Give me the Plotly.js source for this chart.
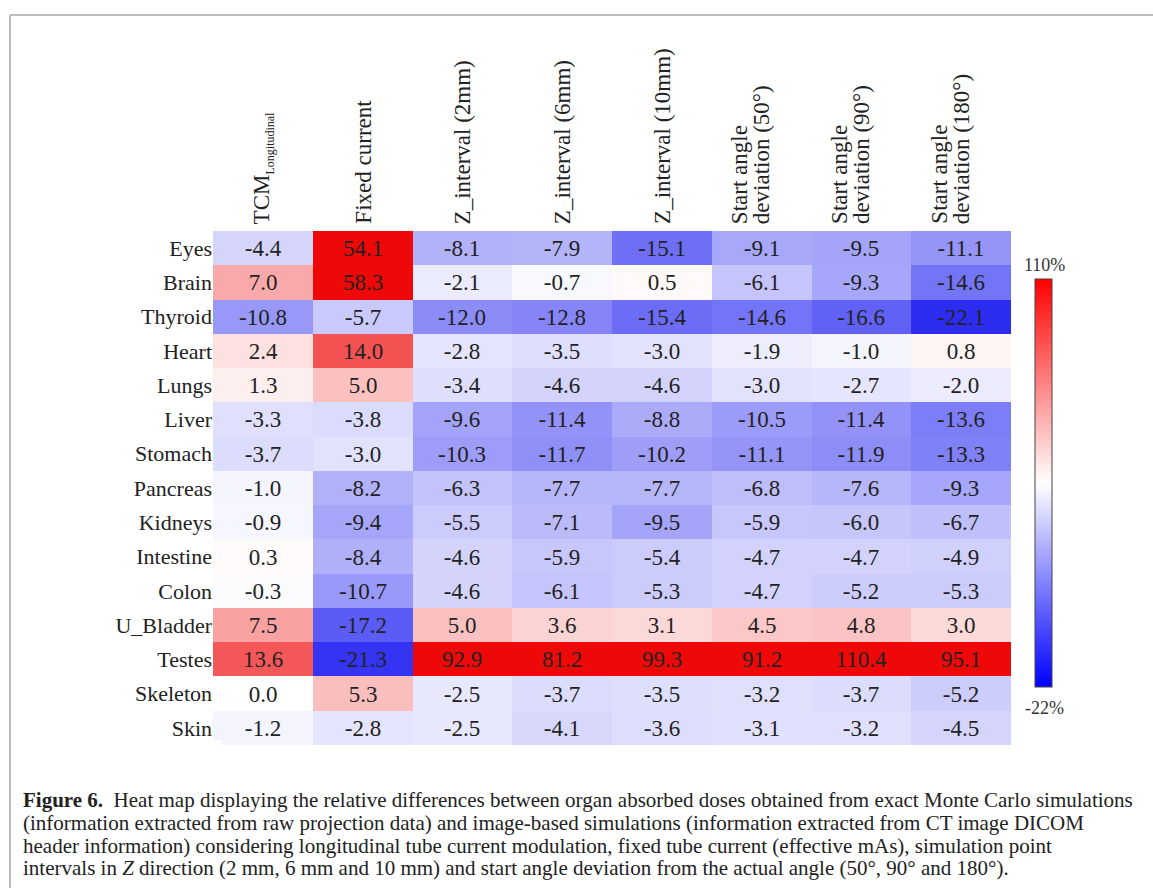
<!DOCTYPE html>
<html>
<head>
<meta charset="utf-8">
<script src="https://cdn.plot.ly/plotly-3.0.1.min.js"></script>
<style>
html,body{margin:0;padding:0;background:#fff;}
#chart{width:1153px;height:888px;}
</style>
</head>
<body>
<div id="chart"></div>
<script>
// ---- Data ----
const organs = ["Eyes","Brain","Thyroid","Heart","Lungs","Liver","Stomach","Pancreas","Kidneys","Intestine","Colon","U_Bladder","Testes","Skeleton","Skin"];
const columnLabels = [
  "TCM<sub><span style='font-size:12px'>Longitudinal</span></sub>",
  "Fixed current",
  "Z_interval (2mm)",
  "Z_interval (6mm)",
  "Z_interval (10mm)",
  "Start angle<br>deviation (50°)",
  "Start angle<br>deviation (90°)",
  "Start angle<br>deviation (180°)"
];
const tcmLongitudinal = [-4.4, 7.0, -10.8, 2.4, 1.3, -3.3, -3.7, -1.0, -0.9, 0.3, -0.3, 7.5, 13.6, 0.0, -1.2];
const fixedCurrent    = [54.1, 58.3, -5.7, 14.0, 5.0, -3.8, -3.0, -8.2, -9.4, -8.4, -10.7, -17.2, -21.3, 5.3, -2.8];
const zInterval2mm    = [-8.1, -2.1, -12.0, -2.8, -3.4, -9.6, -10.3, -6.3, -5.5, -4.6, -4.6, 5.0, 92.9, -2.5, -2.5];
const zInterval6mm    = [-7.9, -0.7, -12.8, -3.5, -4.6, -11.4, -11.7, -7.7, -7.1, -5.9, -6.1, 3.6, 81.2, -3.7, -4.1];
const zInterval10mm   = [-15.1, 0.5, -15.4, -3.0, -4.6, -8.8, -10.2, -7.7, -9.5, -5.4, -5.3, 3.1, 99.3, -3.5, -3.6];
const startAngle50    = [-9.1, -6.1, -14.6, -1.9, -3.0, -10.5, -11.1, -6.8, -5.9, -4.7, -4.7, 4.5, 91.2, -3.2, -3.1];
const startAngle90    = [-9.5, -9.3, -16.6, -1.0, -2.7, -11.4, -11.9, -7.6, -6.0, -4.7, -5.2, 4.8, 110.4, -3.7, -3.2];
const startAngle180   = [-11.1, -14.6, -22.1, 0.8, -2.0, -13.6, -13.3, -9.3, -6.7, -4.9, -5.3, 3.0, 95.1, -5.2, -4.5];
const scaleMin = -22;
const scaleMax = 110;
const scaleLabels = ["110%", "-22%"];
const captionLines = [
  "<b>Figure 6.</b>  Heat map displaying the relative differences between organ absorbed doses obtained from exact Monte Carlo simulations",
  "(information extracted from raw projection data) and image-based simulations (information extracted from CT image DICOM",
  "header information) considering longitudinal tube current modulation, fixed tube current (effective mAs), simulation point",
  "intervals in <i>Z</i> direction (2 mm, 6 mm and 10 mm) and start angle deviation from the actual angle (50°, 90° and 180°)."
];

// ---- Build ----
const series = [tcmLongitudinal, fixedCurrent, zInterval2mm, zInterval6mm, zInterval10mm, startAngle50, startAngle90, startAngle180];
const z = organs.map((_, r) => series.map(col => col[r]));

const span = scaleMax - scaleMin;
const zeroPos = (0 - scaleMin) / span;
const redSat = (20 - scaleMin) / span;
const cellScale = [
  [0, 'rgb(45,45,242)'],
  [zeroPos, 'rgb(255,255,255)'],
  [redSat, 'rgb(238,8,8)'],
  [1, 'rgb(238,8,8)']
];

const SERIF = '"Liberation Serif", "DejaVu Serif", serif';
const PX = v => (v - 213) / 798;      // figure px -> paper x
const PY = v => (745 - v) / 514;      // figure px -> paper y

const heat = {
  type: 'heatmap',
  x: columnLabels,
  y: organs,
  z: z,
  zmin: scaleMin,
  zmax: scaleMax,
  colorscale: cellScale,
  showscale: false,
  texttemplate: '%{z:.1f}',
  textfont: {family: SERIF, size: 23, color: '#222'},
  hoverinfo: 'skip',
  xgap: 0, ygap: 0
};

// Dummy trace used only for its (symmetric) colour bar
const barTrace = {
  type: 'heatmap',
  x: [0, 1], y: [0],
  z: [[scaleMin, scaleMax]],
  zmin: scaleMin, zmax: scaleMax,
  xaxis: 'x2', yaxis: 'y2',
  colorscale: [[0, 'rgb(0,0,255)'], [0.5, 'rgb(255,255,255)'], [1, 'rgb(255,0,0)']],
  hoverinfo: 'skip',
  showscale: true,
  colorbar: {
    thickness: 17,
    thicknessmode: 'pixels',
    lenmode: 'pixels',
    len: 408,
    x: PX(1035),
    xanchor: 'left',
    xpad: 0,
    y: PY(279),
    yanchor: 'top',
    ypad: 0,
    outlinewidth: 1,
    outlinecolor: '#444',
    showticklabels: false,
    ticks: '',
    borderwidth: 0
  }
};

const annotations = [
  {xref: 'paper', yref: 'paper', x: PX(1044), y: PY(265), text: scaleLabels[0], showarrow: false,
   font: {family: SERIF, size: 18, color: '#333'}, xanchor: 'center', yanchor: 'middle'},
  {xref: 'paper', yref: 'paper', x: PX(1044), y: PY(708), text: scaleLabels[1], showarrow: false,
   font: {family: SERIF, size: 18, color: '#333'}, xanchor: 'center', yanchor: 'middle'}
];

// Column headers (rotated), one annotation per line
columnLabels.forEach((lab, i) => {
  const lines = lab.split('<br>');
  lines.forEach((ln, j) => {
    annotations.push({
      xref: 'x', yref: 'paper', x: i, y: PY(226),
      text: ln, textangle: -90, showarrow: false,
      xanchor: 'center', yanchor: 'bottom',
      xshift: (j - (lines.length - 1)) * 22,
      font: {family: SERIF, size: 23, color: '#222'}
    });
  });
});

const capY = [800, 823, 846, 868];
captionLines.forEach((t, i) => {
  annotations.push({
    xref: 'paper', yref: 'paper', x: PX(21), y: PY(capY[i]),
    text: t, showarrow: false, xanchor: 'left', yanchor: 'middle',
    font: {family: SERIF, size: 21, color: '#222'}
  });
});

const layout = {
  width: 1153, height: 888,
  margin: {l: 213, r: 142, t: 231, b: 143, pad: 0},
  paper_bgcolor: '#fff', plot_bgcolor: '#fff',
  showlegend: false,
  xaxis: {
    side: 'top', type: 'category', showticklabels: false,
    ticks: '', showgrid: false, zeroline: false, showline: false
  },
  yaxis: {
    autorange: 'reversed', type: 'category',
    tickfont: {family: SERIF, size: 22, color: '#222'},
    ticks: '', showgrid: false, zeroline: false, showline: false,
    ticklabelstandoff: 0
  },
  xaxis2: {domain: [0, 0.01], range: [10, 11], visible: false, anchor: 'y2'},
  yaxis2: {domain: [0, 0.01], range: [10, 11], visible: false, anchor: 'x2'},
  annotations: annotations,
  shapes: [
    {type: 'line', xref: 'paper', yref: 'paper', layer: 'below',
     x0: PX(10), x1: PX(1160), y0: PY(15), y1: PY(15),
     line: {color: '#bdbdbd', width: 2}},
    {type: 'line', xref: 'paper', yref: 'paper', layer: 'below',
     x0: PX(10), x1: PX(10), y0: PY(15), y1: PY(900),
     line: {color: '#bdbdbd', width: 2}}
  ]
};

Plotly.newPlot('chart', [heat, barTrace], layout, {displayModeBar: false, staticPlot: true});
</script>
</body>
</html>
